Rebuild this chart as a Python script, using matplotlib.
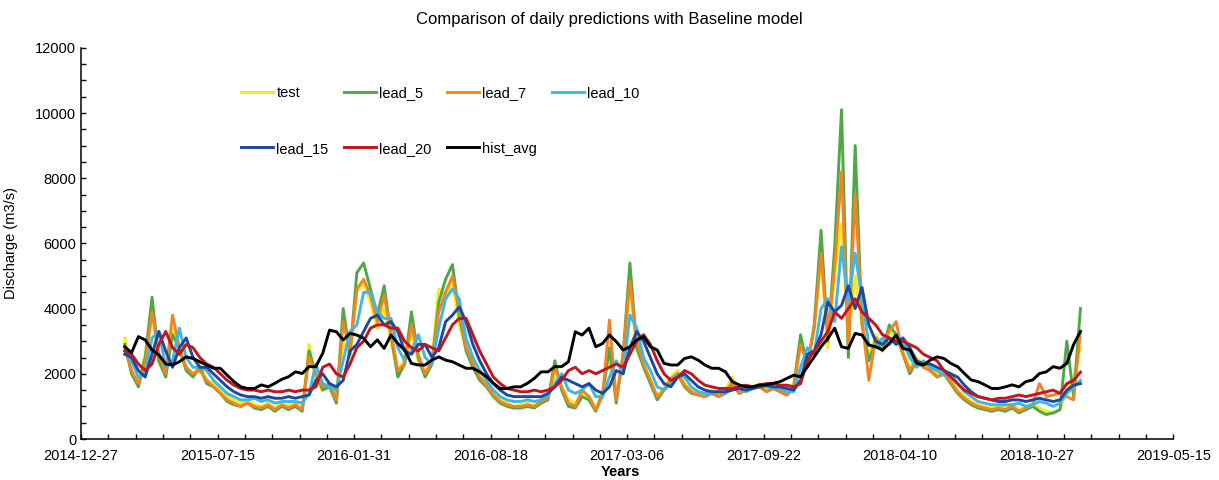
import matplotlib
matplotlib.use("Agg")
import matplotlib.pyplot as plt
import matplotlib.dates as mdates
import numpy as np
import pandas as pd
from matplotlib.ticker import MultipleLocator, FixedLocator

plt.rcParams["font.family"] = ["Liberation Sans", "DejaVu Sans"]

# 10-day samples, 2015-03-01 .. 2018-12-30
dates = pd.date_range("2015-03-01", periods=141, freq="10D")

test = [
    3100, 2000, 1800, 2600, 3900, 2300, 2000, 3400, 2600, 2200,
    2000, 2300, 1800, 1700, 1500, 1300, 1200, 1100, 1200, 1050,
    1000, 1100, 950, 1100, 1000, 1100, 900, 2900, 1800, 1500,
    1700, 1200, 3000, 2500, 4500, 4800, 4200, 3400, 4000, 3000,
    2000, 2500, 3200, 2400, 2000, 2400, 4600, 4400, 4800, 3500,
    2800, 2300, 1900, 1700, 1400, 1200, 1100, 1000, 1050, 1100,
    1000, 1200, 1300, 1900, 1600, 1200, 1100, 1400, 1300, 900,
    1500, 2500, 1200, 2500, 4700, 2700, 2300, 1800, 1300, 1600,
    1900, 2100, 1700, 1500, 1400, 1350, 1500, 1350, 1500, 1900,
    1400, 1500, 1600, 1700, 1500, 1600, 1500, 1400, 1700, 3100,
    2300, 3400, 5500, 2800, 5000, 6600, 3000, 5000, 3500, 2500,
    3200, 2800, 3300, 3100, 2700, 2200, 2500, 2300, 2200, 2000,
    2100, 1800, 1500, 1300, 1150, 1050, 1000, 950, 1000, 950,
    1050, 900, 1000, 1100, 950, 850, 800, 900, 1500, 1900, 2800,
]

lead_5 = [
    2900, 2000, 1600, 2500, 4350, 2400, 1900, 3200, 2800, 2100,
    1900, 2200, 1700, 1600, 1400, 1150, 1050, 1000, 1100, 950,
    900, 1000, 850, 1000, 900, 1000, 850, 2700, 2000, 1500,
    1600, 1100, 4000, 2600, 5100, 5400, 4600, 3800, 4700, 3200,
    1900, 2300, 3900, 2500, 1900, 2300, 4200, 4900, 5350, 3800,
    2700, 2200, 1800, 1600, 1300, 1100, 1000, 950, 950, 1000,
    950, 1100, 1200, 2400, 1500, 1000, 950, 1300, 1200, 850,
    1400, 2800, 1100, 2600, 5400, 2800, 2200, 1700, 1200, 1500,
    1800, 2000, 1600, 1400, 1350, 1300, 1400, 1300, 1400, 1700,
    1400, 1500, 1550, 1600, 1450, 1550, 1450, 1350, 1600, 3200,
    2200, 3500, 6400, 3000, 5900, 10100, 2500, 9000, 3500, 2400,
    3000, 2700, 3500, 3200, 2600, 2000, 2400, 2200, 2100, 1900,
    2000, 1700, 1400, 1200, 1050, 950, 900, 850, 900, 850,
    950, 800, 900, 1000, 850, 750, 800, 900, 3000, 1300, 4000,
]

lead_7 = [
    2800, 2100, 1700, 2300, 3900, 2600, 2000, 3800, 2800, 2200,
    2000, 2100, 1800, 1600, 1400, 1200, 1100, 1000, 1100, 1000,
    950, 1050, 900, 1050, 950, 1050, 900, 2500, 2000, 1600,
    1700, 1200, 3600, 2700, 4600, 4900, 4400, 3600, 4400, 3300,
    2100, 2300, 3500, 2600, 2000, 2400, 3900, 4500, 5000, 4000,
    2800, 2300, 1900, 1650, 1350, 1150, 1050, 1000, 1000, 1050,
    1000, 1150, 1250, 2200, 1600, 1100, 1000, 1500, 1300, 900,
    1300, 3650, 1200, 2600, 4850, 3000, 2300, 1800, 1300, 1500,
    1850, 2000, 1650, 1450, 1350, 1300, 1450, 1300, 1450, 1750,
    1400, 1500, 1550, 1650, 1450, 1550, 1450, 1350, 1550, 2900,
    2300, 3400, 5700, 3200, 5300, 8200, 2800, 7500, 3700, 1800,
    3100, 2900, 3300, 3600, 2600, 2100, 2400, 2200, 2100, 1900,
    2000, 1750, 1450, 1250, 1100, 1000, 950, 900, 950, 900,
    1000, 850, 950, 1050, 1700, 1300, 1350, 1400, 1300, 1200, 3300,
]

lead_10 = [
    2700, 2400, 1900, 2000, 3100, 3300, 2200, 2400, 3400, 2500,
    2200, 2200, 2100, 1800, 1600, 1400, 1300, 1200, 1200, 1250,
    1150, 1200, 1100, 1150, 1150, 1150, 1100, 1400, 2300, 1700,
    1600, 1500, 2400, 3300, 3500, 4500, 4500, 3900, 3700, 3700,
    2800, 2400, 2700, 3200, 2500, 2300, 3400, 4300, 4600, 4300,
    3100, 2500, 2100, 1800, 1500, 1300, 1200, 1150, 1150, 1200,
    1150, 1200, 1350, 1700, 2000, 1500, 1400, 1500, 1700, 1300,
    1300, 1900, 2400, 2000, 3800, 3400, 2500, 2100, 1600, 1500,
    1700, 2000, 1900, 1600, 1450, 1400, 1400, 1450, 1400, 1550,
    1550, 1450, 1550, 1650, 1600, 1550, 1550, 1450, 1450, 2200,
    2800, 2600, 4000, 4300, 3600, 5900, 4200, 5700, 4300, 2900,
    2800, 3100, 2900, 3200, 3000, 2500, 2200, 2400, 2200, 2100,
    1950, 2000, 1700, 1450, 1300, 1150, 1100, 1050, 1050, 1050,
    1050, 1100, 1000, 1050, 1150, 1100, 1000, 1100, 1400, 1600, 1800,
]

lead_15 = [
    2600, 2500, 2100, 1900, 2600, 3300, 2700, 2200, 2800, 3100,
    2500, 2200, 2200, 2000, 1800, 1600, 1450, 1350, 1300, 1300,
    1250, 1300, 1250, 1250, 1300, 1250, 1300, 1350, 1800, 2000,
    1700, 1600, 1800, 2700, 2900, 3300, 3700, 3800, 3500, 3600,
    3300, 2700, 2600, 2900, 2900, 2500, 2800, 3600, 3800, 4050,
    3600, 2900, 2400, 2000, 1700, 1500, 1350, 1300, 1300, 1300,
    1300, 1300, 1400, 1600, 1900, 1800, 1700, 1600, 1700, 1500,
    1400, 1600, 2100, 2000, 2800, 3300, 3000, 2500, 2000, 1700,
    1600, 1900, 2000, 1800, 1600, 1500, 1450, 1450, 1450, 1500,
    1550, 1500, 1550, 1600, 1650, 1600, 1600, 1550, 1500, 1800,
    2600, 2700, 3200, 4200, 3900, 4100, 4700, 4000, 4650, 3500,
    3000, 2900, 3100, 2900, 3100, 2800, 2400, 2300, 2300, 2200,
    2100, 2000, 1900, 1650, 1450, 1300, 1250, 1200, 1150, 1150,
    1200, 1200, 1150, 1200, 1250, 1200, 1150, 1200, 1500, 1650, 1700,
]

lead_20 = [
    2700, 2600, 2300, 2100, 2300, 2900, 3300, 2800, 2600, 2900,
    2800, 2500, 2300, 2200, 2000, 1800, 1650, 1550, 1500, 1500,
    1450, 1500, 1450, 1450, 1500, 1450, 1500, 1500, 1600, 2200,
    2300, 2000, 1900, 2300, 2800, 3000, 3400, 3500, 3500, 3400,
    3400, 3000, 2800, 2700, 2900, 2800, 2700, 3100, 3500, 3700,
    3700, 3200, 2700, 2300, 1900, 1700, 1550, 1500, 1450, 1450,
    1500, 1450, 1500, 1600, 1800, 2100, 2200, 2000, 2100, 2000,
    2100, 2200, 2300, 2200, 2600, 3000, 3200, 2900, 2400, 2000,
    1800, 1900, 2100, 2000, 1800, 1650, 1600, 1550, 1550, 1550,
    1600, 1650, 1600, 1650, 1700, 1700, 1650, 1650, 1600, 1700,
    2400, 2700, 3000, 3300, 3900, 3700, 4000, 4300, 3900, 3700,
    3500, 3200, 3100, 3000, 3000, 2900, 2800, 2600, 2500, 2400,
    2100, 1900, 1700, 1500, 1400, 1300, 1250, 1200, 1250, 1250,
    1300, 1350, 1300, 1350, 1400, 1450, 1500, 1400, 1700, 1800, 2050,
]

hist_avg = [
    2830, 2650, 3140, 3040, 2730, 2580, 2300, 2270, 2370, 2520,
    2470, 2370, 2270, 2170, 2170, 1960, 1760, 1600, 1550, 1550,
    1660, 1600, 1710, 1830, 1910, 2060, 2010, 2220, 2220, 2630,
    3340, 3290, 3040, 3240, 3190, 3090, 2830, 3040, 2780, 3190,
    2930, 2730, 2320, 2270, 2270, 2420, 2520, 2420, 2370, 2270,
    2170, 2170, 2060, 1910, 1710, 1550, 1550, 1600, 1600, 1710,
    1860, 2060, 2060, 2220, 2220, 2370, 3290, 3190, 3400, 2830,
    2930, 3190, 2990, 2730, 2830, 3040, 3140, 2830, 2730, 2320,
    2270, 2270, 2470, 2520, 2420, 2270, 2170, 2170, 2060, 1760,
    1660, 1600, 1600, 1660, 1660, 1710, 1760, 1860, 1960, 1910,
    2220, 2520, 2830, 3090, 3400, 2830, 2780, 3240, 3190, 2880,
    2830, 2730, 2930, 3190, 2780, 2730, 2320, 2270, 2420, 2520,
    2470, 2320, 2220, 2010, 1810, 1760, 1660, 1550, 1550, 1600,
    1660, 1600, 1760, 1810, 2010, 2060, 2220, 2170, 2320, 2900, 3300,
]

series = [
    ("test", test, "#F7EA1C"),
    ("lead_5", lead_5, "#4DA845"),
    ("lead_7", lead_7, "#EE8526"),
    ("lead_10", lead_10, "#3DB7E4"),
    ("lead_15", lead_15, "#1F47A0"),
    ("lead_20", lead_20, "#C0161E"),
    ("hist_avg", hist_avg, "#000000"),
]

fig = plt.figure(figsize=(12.19, 4.8), dpi=100)
ax = fig.add_axes([0.0665, 0.0854, 0.896, 0.815])

handles = {}
for name, vals, color in series:
    (line,) = ax.plot(dates, vals, color=color, linewidth=2.1,
                      solid_joinstyle="round", label=name)
    handles[name] = line

# x axis: ticks every 40 days, labels every 200 days
start = pd.Timestamp("2014-12-27")
end = pd.Timestamp("2019-05-15")
major = pd.date_range(start, end, freq="200D")
minor = pd.date_range(start, end, freq="40D")
ax.set_xlim(mdates.date2num(start), mdates.date2num(end))
ax.xaxis.set_major_locator(FixedLocator(mdates.date2num(major)))
ax.xaxis.set_minor_locator(FixedLocator(mdates.date2num(minor)))
ax.xaxis.set_major_formatter(mdates.DateFormatter("%Y-%m-%d"))

ax.set_ylim(0, 12000)
ax.yaxis.set_major_locator(MultipleLocator(2000))
ax.yaxis.set_minor_locator(MultipleLocator(500))

for side in ("top", "right"):
    ax.spines[side].set_visible(False)
for side in ("left", "bottom"):
    ax.spines[side].set_linewidth(1.1)

ax.tick_params(axis="both", which="both", direction="in", length=3.5,
               width=1.0, labelsize=10.5)
ax.tick_params(axis="x", which="major", pad=7)

ax.set_ylabel("Discharge (m3/s)", fontsize=10.5)
ax.yaxis.set_label_coords(-0.058, 0.5)
ax.set_xlabel("Years", fontsize=10.5, fontweight="bold")
ax.xaxis.set_label_coords(0.494, -0.066)

fig.suptitle("Comparison of daily predictions with Baseline model",
             fontsize=12, x=0.5, y=0.975)

order = ["test", "lead_15", "lead_5", "lead_20", "lead_7", "hist_avg", "lead_10"]
fig.legend(
    [handles[n] for n in order], order,
    loc="upper left",
    bbox_to_anchor=(0.192, 0.836),
    ncol=4,
    frameon=False,
    fontsize=10.5,
    handlelength=2.2,
    handletextpad=0.2,
    columnspacing=1.05,
    labelspacing=2.85,
    borderpad=0,
)

fig.savefig("out.png", dpi=100)
